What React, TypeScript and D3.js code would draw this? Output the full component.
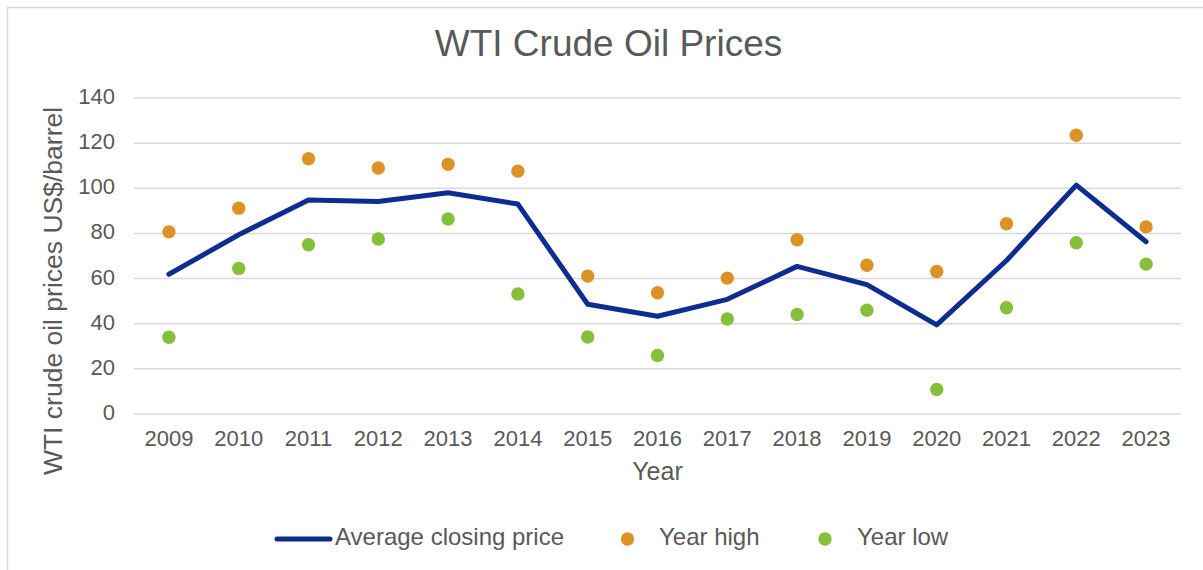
import React from "react";
import * as d3 from "d3";

const years = ["2009","2010","2011","2012","2013","2014","2015","2016","2017","2018","2019","2020","2021","2022","2023"];
const avgClose = [61.9, 79.4, 94.8, 94.1, 98.0, 93.0, 48.6, 43.3, 50.8, 65.4, 57.3, 39.5, 68.0, 101.4, 76.3];
const yearHigh = [80.7, 91.2, 113.1, 109.0, 110.6, 107.6, 61.1, 53.7, 60.2, 77.2, 65.9, 63.1, 84.3, 123.5, 82.9];
const yearLow = [34.0, 64.5, 75.0, 77.5, 86.4, 53.2, 34.1, 25.9, 42.1, 44.1, 46.0, 10.9, 47.1, 75.9, 66.4];
const yTicks = [0, 20, 40, 60, 80, 100, 120, 140];

const W = 1203, H = 570;
const plot = { left: 134, right: 1181, top: 98, bottom: 414 };
const FONT = "'Liberation Sans', Arial, Helvetica, sans-serif";
const TEXT = "#595959";
const NAVY = "#0f2d8e";
const ORANGE = "#dc9326";
const GREEN = "#86bf3c";

export default function App() {
  const x = d3.scaleBand<string>().domain(years).range([plot.left, plot.right]);
  const y = d3.scaleLinear().domain([0, 140]).range([plot.bottom, plot.top]);
  const cx = (yr: string) => (x(yr) as number) + x.bandwidth() / 2;
  const line = d3.line<number>().x((_, i) => cx(years[i])).y((v) => y(v));

  return (
    <div style={{ position: "absolute", left: 0, top: 0 }}>
      <svg width={W} height={H} style={{ display: "block", background: "#fff" }}>
        <rect x={7.5} y={7.5} width={1210} height={600} fill="#fff" stroke="#d9d9d9" strokeWidth={1.5} />
        <text x={608.5} y={55.5} textAnchor="middle" fontFamily={FONT} fontSize={37} fill={TEXT}>
          WTI Crude Oil Prices
        </text>
        {yTicks.map((t) => (
          <g key={t}>
            <line x1={plot.left} x2={plot.right} y1={y(t)} y2={y(t)} stroke="#d9d9d9" strokeWidth={1.5} />
            <text x={115} y={y(t) + 6} textAnchor="end" fontFamily={FONT} fontSize={22} fill={TEXT}>
              {t}
            </text>
          </g>
        ))}
        {years.map((yr) => (
          <text key={yr} x={cx(yr)} y={446} textAnchor="middle" fontFamily={FONT} fontSize={22} fill={TEXT}>
            {yr}
          </text>
        ))}
        <text x={657.5} y={480} textAnchor="middle" fontFamily={FONT} fontSize={25} fill={TEXT}>
          Year
        </text>
        <text
          transform={`translate(62,291) rotate(-90)`}
          textAnchor="middle"
          fontFamily={FONT}
          fontSize={26.5}
          fill={TEXT}
        >
          WTI crude oil prices US$/barrel
        </text>
        <path d={line(avgClose) || ""} fill="none" stroke={NAVY} strokeWidth={5} strokeLinejoin="round" strokeLinecap="round" />
        {yearHigh.map((v, i) => (
          <circle key={"h" + i} cx={cx(years[i])} cy={y(v)} r={6.7} fill={ORANGE} />
        ))}
        {yearLow.map((v, i) => (
          <circle key={"l" + i} cx={cx(years[i])} cy={y(v)} r={6.7} fill={GREEN} />
        ))}
        <line x1={277} x2={330} y1={539} y2={539} stroke={NAVY} strokeWidth={5} strokeLinecap="round" />
        <text x={335} y={545} fontFamily={FONT} fontSize={24} fill={TEXT}>Average closing price</text>
        <circle cx={627.5} cy={539} r={6.7} fill={ORANGE} />
        <text x={659} y={545} fontFamily={FONT} fontSize={24} fill={TEXT}>Year high</text>
        <circle cx={825} cy={539} r={6.7} fill={GREEN} />
        <text x={857} y={545} fontFamily={FONT} fontSize={24} fill={TEXT}>Year low</text>
      </svg>
    </div>
  );
}
